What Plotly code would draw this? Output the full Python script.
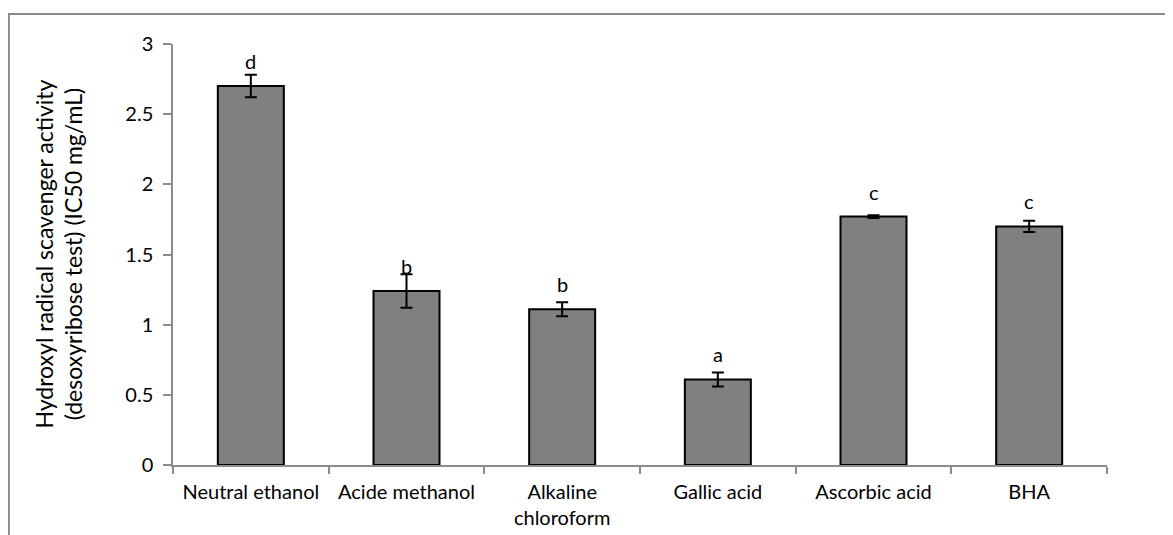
import plotly.graph_objects as go

categories = ["Neutral ethanol", "Acide methanol", "Alkaline<br>chloroform",
              "Gallic acid", "Ascorbic acid", "BHA"]
values = [2.70, 1.24, 1.11, 0.61, 1.77, 1.70]
errors = [0.08, 0.12, 0.05, 0.05, 0.01, 0.04]
letters = ["d", "b", "b", "a", "c", "c"]
y_ticks = [0, 0.5, 1, 1.5, 2, 2.5, 3]

FONT = "Lato"
FS = 20
AXIS_COLOR = "#8c8c8c"

fig = go.Figure()
fig.add_trace(go.Bar(
    x=categories, y=values, width=0.424,
    marker=dict(color="#808080", line=dict(color="black", width=2)),
    error_y=dict(type="data", array=errors, visible=True,
                 color="black", thickness=2, width=6),
    showlegend=False,
))

for c, v, t in zip(categories, values, letters):
    fig.add_annotation(x=c, y=v, text=t, showarrow=False, yanchor="middle",
                       yshift=25, font=dict(family=FONT, size=FS, color="black"))

fig.add_annotation(xref="paper", yref="paper", x=-0.1231, y=0.5,
                   text="Hydroxyl radical scavenger activity<br>(desoxyribose test) (IC50 mg/mL)",
                   textangle=-90, showarrow=False, xanchor="center", yanchor="middle",
                   font=dict(family=FONT, size=23, color="black"))

# outer chart border (cropped by the image edges)
fig.add_shape(type="rect", xref="paper", yref="paper",
              x0=-0.1757, x1=1.09, y0=-0.25, y1=1.0713,
              line=dict(color="#8a8a8a", width=2), layer="below")

fig.update_layout(
    width=1173, height=535,
    margin=dict(l=165, r=74, t=36, b=78),
    paper_bgcolor="white", plot_bgcolor="white",
    font=dict(family=FONT, size=FS, color="black"),
)
fig.update_xaxes(showline=True, linecolor=AXIS_COLOR, linewidth=1.5,
                 ticks="outside", tickson="boundaries", ticklen=7,
                 tickcolor=AXIS_COLOR, tickwidth=1.5, showgrid=False,
                 tickfont=dict(family=FONT, size=FS), ticklabelstandoff=8)
fig.update_yaxes(range=[0, 3], tickvals=y_ticks, showline=True,
                 linecolor=AXIS_COLOR, linewidth=1.5, ticks="outside",
                 ticklen=8, tickcolor=AXIS_COLOR, tickwidth=1.5,
                 showgrid=False, zeroline=False,
                 tickfont=dict(family=FONT, size=FS), ticklabelstandoff=6)

fig.write_html("out.html")
